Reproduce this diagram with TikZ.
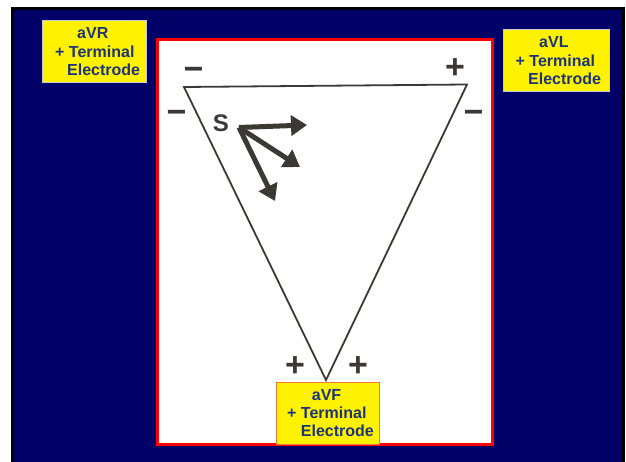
\documentclass[tikz,border=0pt]{standalone}
\usepackage{fontspec}
\setmainfont{Liberation Sans}
\usetikzlibrary{arrows.meta}
\definecolor{bgnavy}{RGB}{0,0,102}
\definecolor{lbltext}{RGB}{28,52,120}
\definecolor{ink}{RGB}{60,56,52}
\definecolor{boxedge}{RGB}{200,200,210}
\definecolor{boxedgeorange}{RGB}{240,120,60}
\begin{document}
\begin{tikzpicture}[x=1bp,y=-1bp,
  ybox/.style={fill=yellow,draw=boxedge,line width=1bp},
  lbl/.style={anchor=base west,inner sep=0pt,text=lbltext,font=\fontsize{16bp}{18bp}\selectfont\bfseries},
  sign/.style={anchor=base,inner sep=0pt,text=ink,font=\fontsize{34bp}{34bp}\selectfont\bfseries},
  tri/.style={draw=ink,line width=1.8bp,line join=miter},
  vec/.style={draw=ink,line width=5bp,-{Triangle[length=16bp,width=20bp]}}]
\useasboundingbox (0,0) rectangle (626,462);
\fill[white] (0,0) rectangle (626,462);
% navy background
\filldraw[fill=bgnavy,draw=black,line width=3bp] (12.5,8.5) rectangle (623.5,475);
% white panel with red border
\filldraw[fill=white,draw=red,line width=3bp] (157.5,39.5) rectangle (492.5,444);
% triangle
\coordinate (RA) at (184,87);
\coordinate (LA) at (467,84.5);
\coordinate (LL) at (326,380);
\draw[tri] (RA) -- (LA) -- (LL) -- cycle;
% signs
\node[sign] (m1) at (193.5,81) {−};
\node[sign] (m2) at (176.5,124) {−};
\node[sign] (p1) at (455,79) {+};
\node[sign] (m3) at (473.5,123.5) {−};
\node[sign] (p2) at (295,376) {+};
\node[sign] (p3) at (358,376) {+};
% S and vectors
\node[anchor=base,inner sep=0pt,text=ink,font=\fontsize{24bp}{24bp}\selectfont\bfseries] (S) at (221,131.5) {S};
\coordinate (O) at (239,127.5);
\coordinate (T1) at (307,125);
\coordinate (T2) at (300,167);
\coordinate (T3) at (275,201);
\draw[vec] (O) -- (T1);
\draw[vec] (O) -- (T2);
\draw[vec] (O) -- (T3);
% label boxes
\filldraw[ybox] (42,21) rectangle (146,83);
\node[lbl] (avr1) at (77,39) {aVR};
\node[lbl] (avr2) at (55,57.5) {+ Terminal};
\node[lbl] (avr3) at (67,76) {Electrode};
\filldraw[ybox] (503.5,30) rectangle (609,92);
\node[lbl] (avl1) at (539,48) {aVL};
\node[lbl] (avl2) at (515.5,66.7) {+ Terminal};
\node[lbl] (avl3) at (528,85) {Electrode};
\filldraw[ybox,draw=boxedgeorange] (276,382) rectangle (379,444);
\node[lbl] (avf1) at (311.7,400) {aVF};
\node[lbl] (avf2) at (287,418) {+ Terminal};
\node[lbl] (avf3) at (300.7,436.7) {Electrode};
\end{tikzpicture}
\end{document}
